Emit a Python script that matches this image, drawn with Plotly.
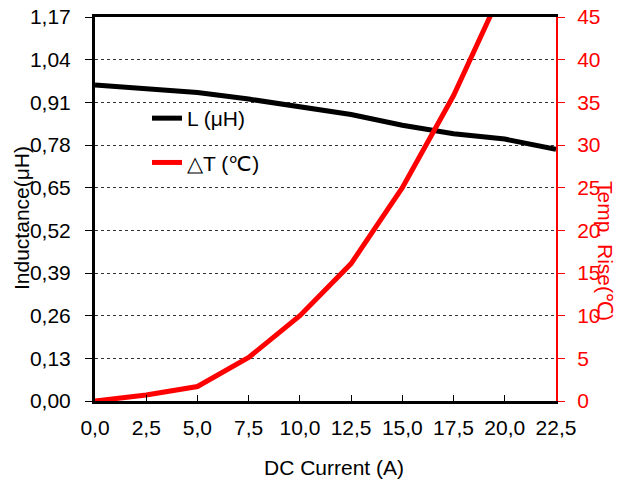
import plotly.graph_objects as go

current = [0.0, 2.5, 5.0, 7.5, 10.0, 12.5, 15.0, 17.5, 20.0, 22.5]
inductance = [0.963, 0.952, 0.940, 0.920, 0.898, 0.873, 0.840, 0.814, 0.798, 0.767]
current_t = [0.0, 2.5, 5.0, 7.5, 10.0, 12.5, 15.0, 17.5, 20.0]
temp_rise = [0.0, 0.7, 1.7, 5.1, 10.0, 16.1, 25.0, 35.8, 48.8]

x_ticks = [0, 2.5, 5, 7.5, 10, 12.5, 15, 17.5, 20, 22.5]
l_ticks = [0.0, 0.13, 0.26, 0.39, 0.52, 0.65, 0.78, 0.91, 1.04, 1.17]
t_ticks = [0, 5, 10, 15, 20, 25, 30, 35, 40, 45]

FONT = "Liberation Sans, Arial, sans-serif"
FS = 21
OFF = 8  # page body margin
W, H = 628 - OFF, 482 - OFF
# plot area in screenshot pixels
PL, PR, PT, PB = 95, 556, 17, 401
ML, MT = PL - OFF, PT - OFF
MR, MB = W - (PR - OFF), H - (PB - OFF)
PW, PH = PR - PL, PB - PT

def px_x(p):
    return (p - PL) / PW

def px_y(p):
    return (PB - p) / PH

fig = go.Figure()
fig.add_trace(go.Scatter(x=current, y=inductance, mode="lines", name="L (μH)",
                         line=dict(color="black", width=5), legendgroup="a"))
fig.add_trace(go.Scatter(x=current_t, y=temp_rise, mode="lines", name="△T (℃)",
                         line=dict(color="#ff0000", width=5), yaxis="y2", legendgroup="b"))

fig.update_layout(
    width=W, height=H,
    margin=dict(l=ML, r=MR, t=MT, b=MB, pad=0),
    paper_bgcolor="white", plot_bgcolor="white",
    separators=", ",
    font=dict(family=FONT, size=FS, color="black"),
    showlegend=True,
    legend=dict(x=px_x(147), y=px_y(98), xanchor="left", yanchor="top",
                bgcolor="rgba(0,0,0,0)", font=dict(size=FS, color="black"),
                traceorder="grouped", tracegroupgap=14),
    xaxis=dict(range=[0, 22.5], tickvals=x_ticks, tickformat=".1f", automargin=False,
               showline=True, linecolor="black", linewidth=3, mirror=True,
               ticks="inside", ticklen=6, tickcolor="black", tickwidth=1,
               showgrid=False, zeroline=False, ticklabelstandoff=6,
               ticklabeloverflow="allow"),
    yaxis=dict(range=[0, 1.17], tickvals=l_ticks, tickformat=".2f", automargin=False,
               showline=True, linecolor="black", linewidth=3,
               ticks="outside", ticklen=7, tickcolor="black", tickwidth=1,
               showgrid=True, gridcolor="#333333", griddash="dot", gridwidth=1,
               zeroline=False, ticklabelstandoff=10, ticklabeloverflow="allow"),
    yaxis2=dict(range=[0, 45], tickvals=t_ticks, overlaying="y", side="right", automargin=False,
                showline=True, linecolor="#ff0000", linewidth=2,
                ticks="outside", ticklen=7, tickcolor="#ff0000", tickwidth=1,
                tickfont=dict(color="#ff0000", size=FS),
                showgrid=False, zeroline=False, ticklabelstandoff=8,
                ticklabeloverflow="allow"),
    annotations=[
        dict(text="Inductance(μH)", xref="paper", yref="paper",
             x=px_x(21), y=px_y(218), textangle=-90, showarrow=False,
             xanchor="center", yanchor="middle", font=dict(size=FS, color="black")),
        dict(text="Temp. Rise(℃)", xref="paper", yref="paper",
             x=px_x(606), y=px_y(251), textangle=90, showarrow=False,
             xanchor="center", yanchor="middle", font=dict(size=FS, color="#ff0000")),
        dict(text="DC Current (A)", xref="paper", yref="paper",
             x=px_x(333.5), y=px_y(467), showarrow=False,
             xanchor="center", yanchor="middle", font=dict(size=FS, color="black")),
    ],
)

fig.write_html("out.html")
